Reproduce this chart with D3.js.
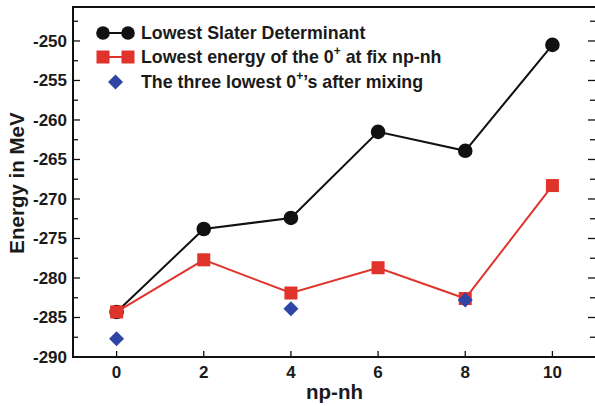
<!DOCTYPE html>
<html><head><meta charset="utf-8">
<script src="https://cdn.jsdelivr.net/npm/d3@7"></script>
<style>body{margin:0;background:#fff}svg{display:block}text{font-family:"Liberation Sans",Arial,sans-serif;font-weight:bold;fill:#1a1a1a}</style>
</head><body><svg id="c" width="595" height="406"></svg>
<script>
const npnh = [0, 2, 4, 6, 8, 10];
const slater = [-284.3, -273.8, -272.4, -261.5, -263.9, -250.5];
const fixed = [-284.3, -277.7, -281.9, -278.7, -282.6, -268.3];
const mixX = [0, 4, 8];
const mixed = [-287.7, -283.9, -282.8];
const xTicks = [0, 2, 4, 6, 8, 10];
const yTicks = [-290, -285, -280, -275, -270, -265, -260, -255, -250];
const yMinor = [-287.5, -282.5, -277.5, -272.5, -267.5, -262.5, -257.5, -252.5, -247.5];
const legendLabels = ["Lowest Slater Determinant", "Lowest energy of the 0", "The three lowest 0"];

const svg = d3.select("#c");
const L = 73, R = 596, T = 7, B = 357;
const x = d3.scaleLinear().domain([-1, 11]).range([L, R]);
const y = d3.scaleLinear().domain([-290, -245.7]).range([B, T]);
const red = "#e0332b", blue = "#2e45a5", black = "#111";

const g = svg.append("g");
g.selectAll(".yl").data(yTicks).join("line").attr("x1", L).attr("x2", L + 7).attr("y1", d => y(d)).attr("y2", d => y(d)).attr("stroke", black).attr("stroke-width", 1.3);
g.selectAll(".ylm").data(yMinor).join("line").attr("x1", L).attr("x2", L + 5).attr("y1", d => y(d)).attr("y2", d => y(d)).attr("stroke", black).attr("stroke-width", 1.3);
g.selectAll(".yr").data(yTicks).join("line").attr("x1", R).attr("x2", R - 8).attr("y1", d => y(d)).attr("y2", d => y(d)).attr("stroke", black).attr("stroke-width", 1.3);
g.selectAll(".yrm").data(yMinor).join("line").attr("x1", R).attr("x2", R - 6).attr("y1", d => y(d)).attr("y2", d => y(d)).attr("stroke", black).attr("stroke-width", 1.3);
g.selectAll(".xb").data(xTicks).join("line").attr("x1", d => x(d)).attr("x2", d => x(d)).attr("y1", B).attr("y2", B - 6).attr("stroke", black).attr("stroke-width", 1.3);

svg.append("rect").attr("x", L).attr("y", T).attr("width", R - L).attr("height", B - T).attr("fill", "none").attr("stroke", black).attr("stroke-width", 2);

svg.selectAll(".ytl").data(yTicks).join("text").attr("x", L - 6).attr("y", d => y(d) + 6).attr("text-anchor", "end").attr("font-size", 17).text(d => d);
svg.selectAll(".xtl").data(xTicks).join("text").attr("x", d => x(d)).attr("y", 378).attr("text-anchor", "middle").attr("font-size", 17).text(d => d);

svg.append("text").attr("x", x(5)).attr("y", 399).attr("text-anchor", "middle").attr("font-size", 20.5).text("np-nh");
svg.append("text").attr("transform", `translate(24,${(T + B) / 2 + 1}) rotate(-90)`).attr("text-anchor", "middle").attr("font-size", 20.5).text("Energy in MeV");

const line = d3.line().x(d => x(d[0])).y(d => y(d[1]));
svg.append("path").datum(npnh.map((d, i) => [d, slater[i]])).attr("d", line).attr("fill", "none").attr("stroke", black).attr("stroke-width", 2);
svg.append("path").datum(npnh.map((d, i) => [d, fixed[i]])).attr("d", line).attr("fill", "none").attr("stroke", red).attr("stroke-width", 2);

svg.selectAll(".c").data(npnh).join("circle").attr("cx", d => x(d)).attr("cy", (d, i) => y(slater[i])).attr("r", 7.3).attr("fill", black);
svg.selectAll(".s").data(npnh).join("rect").attr("x", d => x(d) - 6.5).attr("y", (d, i) => y(fixed[i]) - 6.5).attr("width", 13).attr("height", 13).attr("fill", red);
const dia = (cx, cy, r) => `M${cx},${cy - r}L${cx + r},${cy}L${cx},${cy + r}L${cx - r},${cy}Z`;
svg.selectAll(".d").data(mixX).join("path").attr("d", (d, i) => dia(x(d), y(mixed[i]), 7.5)).attr("fill", blue);

const lg = svg.append("g");
const lx1 = 103, lx2 = 128, tx = 141;
const ry = [33, 57, 82];
lg.append("line").attr("x1", lx1).attr("x2", lx2).attr("y1", ry[0]).attr("y2", ry[0]).attr("stroke", black).attr("stroke-width", 2);
[lx1, lx2].forEach(cx => lg.append("circle").attr("cx", cx).attr("cy", ry[0]).attr("r", 6.8).attr("fill", black));
lg.append("line").attr("x1", lx1).attr("x2", lx2).attr("y1", ry[1]).attr("y2", ry[1]).attr("stroke", red).attr("stroke-width", 2);
[lx1, lx2].forEach(cx => lg.append("rect").attr("x", cx - 6.5).attr("y", ry[1] - 6.5).attr("width", 13).attr("height", 13).attr("fill", red));
lg.append("path").attr("d", dia(115.5, ry[2], 7.5)).attr("fill", blue);

lg.append("text").attr("x", tx).attr("y", ry[0] + 6).attr("font-size", 17.8).text(legendLabels[0]);
const t2 = lg.append("text").attr("x", tx).attr("y", ry[1] + 6).attr("font-size", 17.8);
t2.append("tspan").text(legendLabels[1]);
t2.append("tspan").attr("dy", -8).attr("font-size", 12).text("+");
t2.append("tspan").attr("dy", 8).text(" at fix np-nh");
const t3 = lg.append("text").attr("x", tx).attr("y", ry[2] + 6).attr("font-size", 17.8);
t3.append("tspan").text(legendLabels[2]);
t3.append("tspan").attr("dy", -8).attr("font-size", 12).text("+");
t3.append("tspan").attr("dy", 8).text("’s after mixing");
</script></body></html>
